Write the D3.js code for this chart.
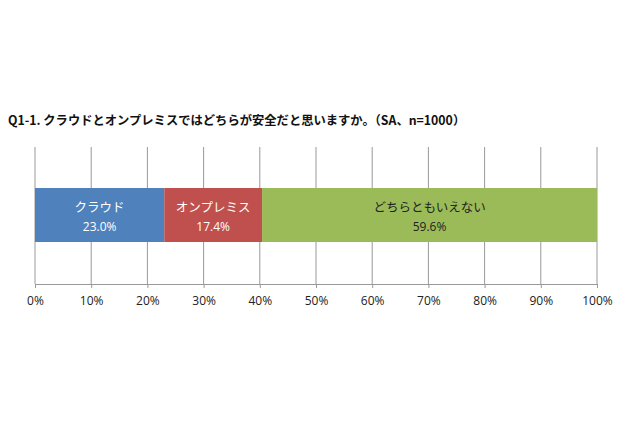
<!DOCTYPE html>
<html lang="ja">
  <head>
    <meta charset="UTF-8" />
    <title>Q1-1</title>
    <script src="https://cdn.jsdelivr.net/npm/d3@7"></script>
    <style>
      body { margin: 0; background: #fff; }
      text { font-family: "Noto Sans CJK JP", "Open Sans", sans-serif; }
    </style>
  </head>
  <body>
    <script>
      // data
      var categories = ["クラウド", "オンプレミス", "どちらともいえない"];
      var values = [23.0, 17.4, 59.6];
      var colors = ["#4f81bd", "#c0504d", "#9bbb59"];
      var labelColors = ["#ffffff", "#ffffff", "#222222"];
      var ticks = [0, 10, 20, 30, 40, 50, 60, 70, 80, 90, 100];
      var title = "Q1-1. クラウドとオンプレミスではどちらが安全だと思いますか。（SA、n=1000）";

      var width = 640, height = 426;
      var svg = d3.select("body").append("svg")
        .attr("width", width)
        .attr("height", height);

      svg.append("rect").attr("width", width).attr("height", height).attr("fill", "#fff");

      svg.append("text")
        .attr("x", 8)
        .attr("y", 125)
        .attr("font-size", 12.3)
        .attr("font-weight", "bold")
        .attr("fill", "#111")
        .text(title);

      var x = d3.scaleLinear().domain([0, 100]).range([35, 597]);
      var gridTop = 147, gridBottom = 284;

      // gridlines
      svg.selectAll(".grid").data(ticks).enter()
        .append("line")
        .attr("x1", d => x(d)).attr("x2", d => x(d))
        .attr("y1", gridTop).attr("y2", gridBottom)
        .attr("stroke", "#999").attr("stroke-width", 1);

      // stacked bar
      var starts = [];
      var acc = 0;
      values.forEach(function (v) { starts.push(acc); acc += v; });

      var g = svg.selectAll(".seg").data(values).enter().append("g");
      g.append("rect")
        .attr("x", (d, i) => x(starts[i]))
        .attr("width", d => x(d) - x(0))
        .attr("y", 188)
        .attr("height", 54)
        .attr("fill", (d, i) => colors[i]);

      g.append("text")
        .attr("x", (d, i) => x(starts[i] + d / 2))
        .attr("y", 212)
        .attr("text-anchor", "middle")
        .attr("font-size", 12.5)
        .attr("fill", (d, i) => labelColors[i])
        .text((d, i) => categories[i]);

      g.append("text")
        .attr("x", (d, i) => x(starts[i] + d / 2))
        .attr("y", 231)
        .attr("text-anchor", "middle")
        .attr("font-size", 12)
        .attr("fill", (d, i) => labelColors[i])
        .style("font-family", "'Open Sans', sans-serif")
        .text(d => d.toFixed(1) + "%");

      // axis
      var axis = d3.axisBottom(x).tickValues(ticks).tickSize(4).tickFormat(d => d + "%");
      var ax = svg.append("g").attr("transform", "translate(0," + gridBottom + ")").call(axis);
      ax.select(".domain").attr("stroke", "#999");
      ax.selectAll(".tick line").attr("stroke", "#999");
      ax.selectAll(".tick text")
        .attr("font-size", 12)
        .attr("fill", "#222")
        .attr("dy", "1.2em")
        .style("font-family", "'Open Sans', sans-serif");
    </script>
  </body>
</html>
